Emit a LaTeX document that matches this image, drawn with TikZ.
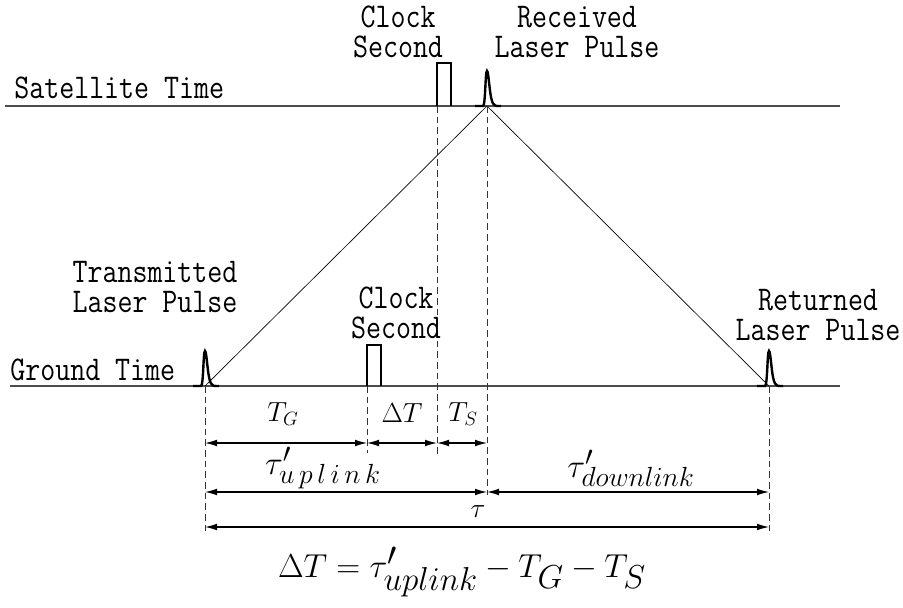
\documentclass[tikz,border=0pt]{standalone}
\usepackage{fontspec}
\usepackage{graphicx}
\usetikzlibrary{arrows.meta}
\newcommand\mylbl[1]{\scalebox{0.84}[1]{#1}}
\tikzset{
  timeline/.style={line width=0.9pt, draw=black!70},
  ray/.style={line width=0.5pt, draw=black},
  pulse/.style={line width=1.8pt, draw=black, line join=miter},
  guide/.style={line width=0.7pt, draw=black!80, dash pattern=on 5pt off 3pt},
  dim/.style={line width=0.8pt, draw=black, {Latex[length=9pt,width=5pt]}-{Latex[length=9pt,width=5pt]}},
  ttlabel/.style={font=\fontsize{26}{22.5}\ttfamily\selectfont, align=center, inner sep=0pt},
  mathlabel/.style={font=\fontsize{20}{24}\selectfont, inner sep=0pt},
  laser/.pic={\draw[pulse] (-12,0) -- (-4,0) .. controls (-1.5,0) and (-1.8,-35) .. (0,-35) .. controls (1.8,-35) and (2.5,-8) .. (6,-2.5) .. controls (8,0) .. (14,0);}
}
\begin{document}
\begin{tikzpicture}[x=0.75pt,y=-0.75pt]
\useasboundingbox (0,0) rectangle (903,607);
% time lines
\coordinate (s0) at (5,106);
\coordinate (s1) at (840,106);
\coordinate (g0) at (10,386);
\coordinate (g1) at (840,386);
\draw[timeline] (s0) -- (s1);
\draw[timeline] (g0) -- (g1);
% events
\coordinate (tx) at (205,386);
\coordinate (rx) at (487,106);
\coordinate (ret) at (769,386);
\coordinate (gclk) at (367,386);
\coordinate (sclk) at (437,106);
% rays
\draw[ray] (tx) -- (rx) -- (ret);
% pulses
\pic at (tx) {laser};
\pic at (rx) {laser};
\pic at (ret) {laser};
\draw[pulse] (sclk) -- ++(0,-43) -- ++(14,0) -- ++(0,43);
\draw[pulse] (gclk) -- ++(0,-41) -- ++(14,0) -- ++(0,41);
% guide lines
\coordinate (txb) at (205,535);
\coordinate (retb) at (769,535);
\coordinate (gclkb) at (367,453);
\coordinate (sclkb) at (437,457);
\coordinate (rxb) at (487,495);
\draw[guide] (tx) -- (txb);
\draw[guide] (ret) -- (retb);
\draw[guide] (gclk) -- (gclkb);
\draw[guide] (sclk) -- (sclkb);
\draw[guide] (rx) -- (rxb);
% dimension arrows
\coordinate (a1) at (205,443);
\coordinate (a2) at (367,443);
\coordinate (a3) at (437,443);
\coordinate (a4) at (487,443);
\coordinate (b1) at (205,492);
\coordinate (b2) at (487,492);
\coordinate (b3) at (769,492);
\coordinate (c1) at (205,527);
\coordinate (c2) at (769,527);
\draw[dim] (a1) -- (a2);
\draw[dim] (a2) -- (a3);
\draw[dim] (a3) -- (a4);
\draw[dim] (b1) -- (b2);
\draw[dim] (b2) -- (b3);
\draw[dim] (c1) -- (c2);
% math labels
\node[mathlabel] (tg) at (283,414) {$T_G$};
\node[mathlabel] (dt) at (402,413) {$\Delta T$};
\node[mathlabel] (ts) at (463,414) {$T_S$};
\node[mathlabel, font=\fontsize{30}{36}\selectfont] (tup) at (323,468) {$\tau'_{u\,p\,l\,i\,n\,k}$};
\node[mathlabel, font=\fontsize{30}{36}\selectfont] (tdown) at (631,468) {$\tau'_{downlink}$};
\node[mathlabel] (tau) at (478,512) {$\tau$};
\node[mathlabel, font=\fontsize{42}{48}\selectfont] (eq) at (462,572) {$\Delta T = \tau'_{uplink} - T_G - T_S$};
% text labels
\node[ttlabel, anchor=west] (sat) at (14,88) {\mylbl{Satellite Time}};
\node[ttlabel, anchor=west] (gnd) at (10,370) {\mylbl{Ground Time}};
\node[ttlabel] (sclkl) at (398,32) {\mylbl{Clock}\\\mylbl{Second}};
\node[ttlabel] (rxl) at (577,32) {\mylbl{Received}\\\mylbl{Laser Pulse}};
\node[ttlabel] (txl) at (155,287) {\mylbl{Transmitted}\\\mylbl{Laser Pulse}};
\node[ttlabel] (gclkl) at (396,313) {\mylbl{Clock}\\\mylbl{Second}};
\node[ttlabel] (retl) at (818,315) {\mylbl{Returned}\\\mylbl{Laser Pulse}};
\end{tikzpicture}
\end{document}
